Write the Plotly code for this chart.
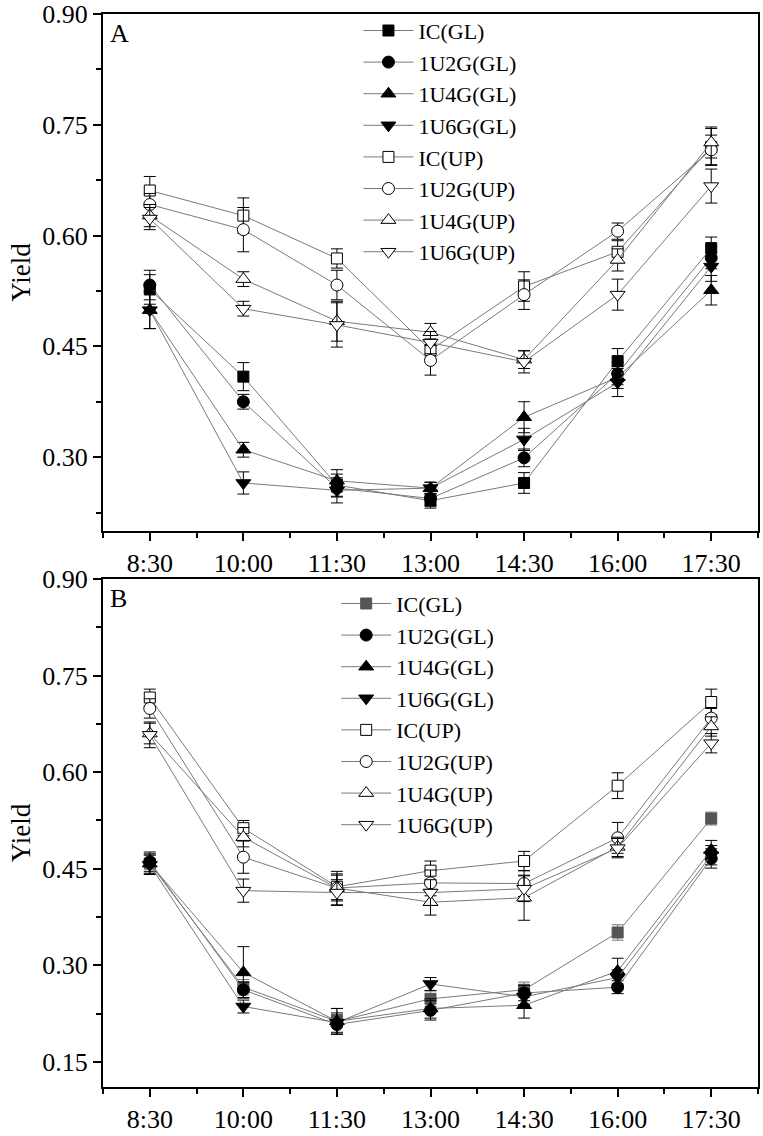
import plotly.graph_objects as go

times = ["8:30", "10:00", "11:30", "13:00", "14:30", "16:00", "17:30"]
names = ["IC(GL)", "1U2G(GL)", "1U4G(GL)", "1U6G(GL)",
         "IC(UP)", "1U2G(UP)", "1U4G(UP)", "1U6G(UP)"]

# ---- Panel A values ----
a_ic_gl = [0.527, 0.409, 0.262, 0.241, 0.265, 0.430, 0.583]
a_u2_gl = [0.533, 0.375, 0.258, 0.244, 0.299, 0.413, 0.570]
a_u4_gl = [0.499, 0.310, 0.268, 0.258, 0.354, 0.408, 0.526]
a_u6_gl = [0.499, 0.265, 0.255, 0.258, 0.324, 0.401, 0.558]
a_ic_up = [0.661, 0.627, 0.569, 0.445, 0.531, 0.578, 0.720]
a_u2_up = [0.642, 0.608, 0.533, 0.431, 0.520, 0.606, 0.716]
a_u4_up = [0.627, 0.541, 0.484, 0.469, 0.432, 0.567, 0.726]
a_u6_up = [0.623, 0.501, 0.479, 0.455, 0.429, 0.520, 0.667]

a_ic_gl_err = [0.020, 0.019, 0.015, 0.010, 0.014, 0.017, 0.015]
a_u2_gl_err = [0.020, 0.010, 0.012, 0.010, 0.012, 0.015, 0.015]
a_u4_gl_err = [0.025, 0.010, 0.015, 0.008, 0.021, 0.015, 0.020]
a_u6_gl_err = [0.025, 0.015, 0.017, 0.008, 0.015, 0.019, 0.020]
a_ic_up_err = [0.019, 0.024, 0.013, 0.015, 0.020, 0.015, 0.025]
a_u2_up_err = [0.015, 0.030, 0.020, 0.020, 0.020, 0.011, 0.020]
a_u4_up_err = [0.015, 0.010, 0.027, 0.012, 0.012, 0.015, 0.021]
a_u6_up_err = [0.015, 0.010, 0.030, 0.015, 0.015, 0.021, 0.023]

# ---- Panel B values ----
b_ic_gl = [0.458, 0.266, 0.213, 0.248, 0.262, 0.351, 0.528]
b_u2_gl = [0.461, 0.262, 0.208, 0.230, 0.257, 0.266, 0.466]
b_u4_gl = [0.458, 0.289, 0.213, 0.233, 0.238, 0.291, 0.479]
b_u6_gl = [0.456, 0.236, 0.211, 0.271, 0.251, 0.281, 0.471]
b_ic_up = [0.716, 0.513, 0.422, 0.447, 0.462, 0.579, 0.709]
b_u2_up = [0.699, 0.468, 0.420, 0.428, 0.427, 0.498, 0.684]
b_u4_up = [0.660, 0.499, 0.420, 0.398, 0.405, 0.484, 0.671]
b_u6_up = [0.658, 0.416, 0.413, 0.413, 0.419, 0.482, 0.645]

b_ic_gl_err = [0.015, 0.012, 0.020, 0.012, 0.012, 0.012, 0.010]
b_u2_gl_err = [0.015, 0.012, 0.015, 0.015, 0.012, 0.010, 0.015]
b_u4_gl_err = [0.015, 0.040, 0.020, 0.015, 0.020, 0.020, 0.015]
b_u6_gl_err = [0.015, 0.010, 0.015, 0.010, 0.012, 0.012, 0.015]
b_ic_up_err = [0.013, 0.012, 0.020, 0.015, 0.015, 0.020, 0.020]
b_u2_up_err = [0.015, 0.025, 0.020, 0.020, 0.020, 0.024, 0.015]
b_u4_up_err = [0.016, 0.015, 0.026, 0.020, 0.035, 0.015, 0.015]
b_u6_up_err = [0.020, 0.018, 0.020, 0.020, 0.020, 0.015, 0.015]

panel_a = [a_ic_gl, a_u2_gl, a_u4_gl, a_u6_gl, a_ic_up, a_u2_up, a_u4_up, a_u6_up]
panel_a_err = [a_ic_gl_err, a_u2_gl_err, a_u4_gl_err, a_u6_gl_err,
               a_ic_up_err, a_u2_up_err, a_u4_up_err, a_u6_up_err]
panel_b = [b_ic_gl, b_u2_gl, b_u4_gl, b_u6_gl, b_ic_up, b_u2_up, b_u4_up, b_u6_up]
panel_b_err = [b_ic_gl_err, b_u2_gl_err, b_u4_gl_err, b_u6_gl_err,
               b_ic_up_err, b_u2_up_err, b_u4_up_err, b_u6_up_err]

symbols = ["square", "circle", "triangle-up", "triangle-down"] * 2
sizes = [11, 12, 13, 13, 11, 12, 13, 13]
fills = ["black"] * 4 + ["white"] * 4

xpos = list(range(len(times)))
FONT = "Liberation Serif"

fig = go.Figure()

for panel, (vals, errs, xa, ya, lg) in enumerate([
        (panel_a, panel_a_err, "x", "y", "legend"),
        (panel_b, panel_b_err, "x2", "y2", "legend2")]):
    for i, name in enumerate(names):
        fill = fills[i]
        edge = "black"
        ecol = "black"
        if panel == 1 and i == 0:
            fill = "#555555"
            edge = "#555555"
            ecol = "#777777"
        fig.add_trace(go.Scatter(
            x=xpos, y=vals[i], name=name, mode="lines+markers",
            xaxis=xa, yaxis=ya, legend=lg,
            line=dict(color="#7a7a7a", width=1),
            marker=dict(symbol=symbols[i], size=sizes[i], color=fill,
                        line=dict(color=edge, width=1)),
            error_y=dict(type="data", array=errs[i], visible=True,
                         color=ecol, thickness=1, width=6),
        ))

axis_common = dict(
    showline=True, linecolor="black", linewidth=2, mirror=True,
    ticks="outside", ticklen=8, tickwidth=1.5, tickcolor="black",
    showgrid=False, zeroline=False, automargin=False,
    tickfont=dict(family=FONT, size=26, color="black"),
)

xaxis_cfg = dict(axis_common, range=[-0.5, 6.5], tickmode="array",
                 tickvals=xpos, ticktext=times,
                 minor=dict(tick0=0.5, dtick=1, ticks="outside", ticklen=5,
                            tickwidth=1.5, tickcolor="black"))

yaxis_cfg = dict(axis_common, tickmode="linear", dtick=0.15, tickformat=".2f",
                 title=dict(text="Yield", font=dict(family=FONT, size=27, color="black"),
                            standoff=4),
                 minor=dict(dtick=0.075, ticks="outside", ticklen=5,
                            tickwidth=1.5, tickcolor="black"))

fig.update_layout(
    width=763, height=1136,
    margin=dict(l=103, r=5, t=14, b=49),
    paper_bgcolor="white", plot_bgcolor="white",
    font=dict(family=FONT, color="black"),
    xaxis=dict(xaxis_cfg, domain=[0, 1], anchor="y"),
    yaxis=dict(yaxis_cfg, domain=[0.5182, 1.0], range=[0.2, 0.9], tick0=0.0, anchor="x"),
    xaxis2=dict(xaxis_cfg, domain=[0, 1], anchor="y2"),
    yaxis2=dict(yaxis_cfg, domain=[0.0, 0.4734], range=[0.111, 0.9], tick0=0.0, anchor="x2"),
    legend=dict(x=0.39, y=1.004, xanchor="left", yanchor="top",
                bgcolor="rgba(0,0,0,0)", borderwidth=0, itemwidth=50,
                tracegroupgap=0, font=dict(family=FONT, size=22, color="black")),
    legend2=dict(x=0.356, y=0.470, xanchor="left", yanchor="top",
                 bgcolor="rgba(0,0,0,0)", borderwidth=0, itemwidth=50,
                 tracegroupgap=0, font=dict(family=FONT, size=22, color="black")),
    annotations=[
        dict(text="A", xref="x domain", yref="y domain", x=0.008, y=0.995,
             xanchor="left", yanchor="top", showarrow=False,
             font=dict(family=FONT, size=26, color="black")),
        dict(text="B", xref="x2 domain", yref="y2 domain", x=0.008, y=0.995,
             xanchor="left", yanchor="top", showarrow=False,
             font=dict(family=FONT, size=26, color="black")),
    ],
)

fig.write_html("out.html")
